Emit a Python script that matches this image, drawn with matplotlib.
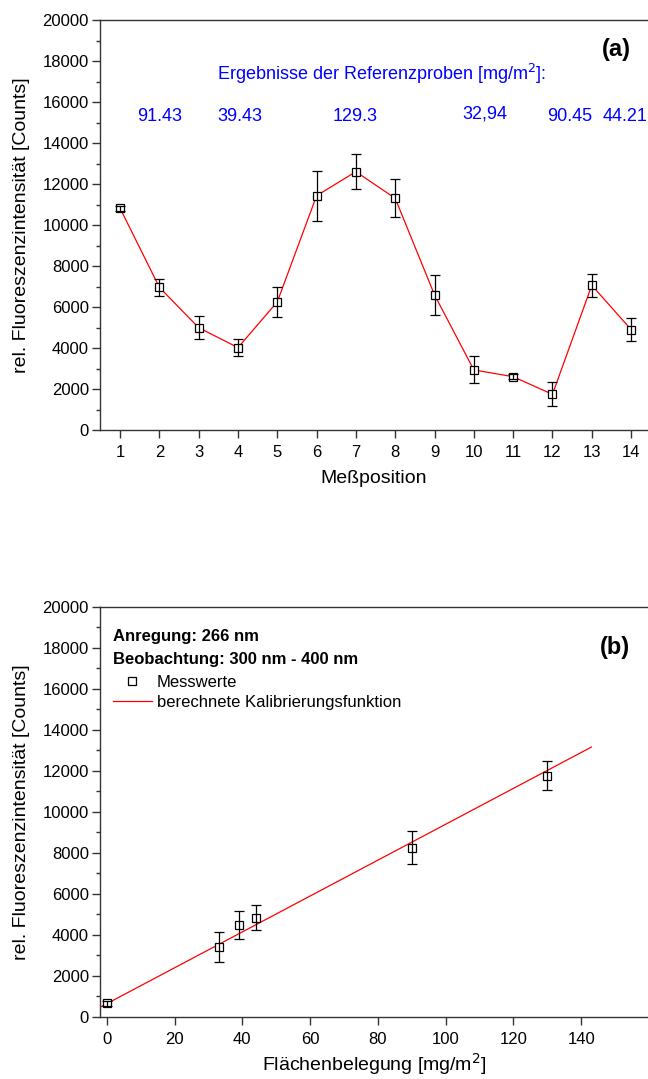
import matplotlib
matplotlib.use("Agg")
import matplotlib.pyplot as plt
from matplotlib.ticker import MultipleLocator
import numpy as np

plt.rcParams['font.family'] = ['Liberation Sans', 'DejaVu Sans']

# ---- data panel (a) ----
positions = [1, 2, 3, 4, 5, 6, 7, 8, 9, 10, 11, 12, 13, 14]
intensity_a = [10820, 6960, 4990, 4020, 6250, 11430, 12600, 11300, 6590, 2930, 2600, 1740, 7060, 4900]
error_a = [130, 430, 550, 420, 720, 1220, 840, 930, 970, 660, 120, 590, 550, 570]
ref_labels = ["91.43", "39.43", "129.3", "32,94", "90.45", "44.21"]
ref_label_x = [2.0, 4.04, 6.97, 10.27, 12.45, 13.84]
ref_label_y = [15300, 15300, 15300, 15420, 15300, 15300]

# ---- data panel (b) ----
coverage = [0, 33.0, 39.0, 43.9, 90.0, 130.0]
intensity_b = [660, 3420, 4470, 4840, 8250, 11770]
error_b = [120, 730, 690, 600, 820, 710]
fit_x = [-2, 143]
fit_intercept = 635
fit_slope = 87.6

W, H = 648, 1079
fig = plt.figure(figsize=(W / 100, H / 100), dpi=100)

def style_axes(ax):
    for s in ['left', 'bottom', 'top']:
        ax.spines[s].set_linewidth(1.0)
        ax.spines[s].set_color('#333333')
    ax.spines['right'].set_visible(False)
    ax.tick_params(axis='both', which='major', direction='out', length=6,
                   width=1.0, color='#333333', labelsize=12)
    ax.tick_params(axis='y', which='major', pad=2)
    ax.tick_params(axis='x', which='major', pad=5)
    ax.tick_params(axis='y', which='minor', direction='out', length=3,
                   width=1.0, color='#333333')
    ax.tick_params(top=False, right=False)
    ax.set_ylim(0, 20000)
    ax.yaxis.set_major_locator(MultipleLocator(2000))
    ax.yaxis.set_minor_locator(MultipleLocator(1000))
    ax.set_ylabel("rel. Fluoreszenzintensität [Counts]", fontsize=14)
    ax.yaxis.set_label_coords(-0.128, 0.5)

# ---- panel (a) ----
ax1 = fig.add_axes([100 / W, 1 - 430 / H, 548 / W, 410 / H])
style_axes(ax1)
ax1.plot(positions, intensity_a, color='red', lw=0.9, zorder=2)
ax1.plot(positions, intensity_a, ls='none', marker='s', ms=6, mfc='white',
         mec='black', mew=0.9, zorder=3)
ax1.errorbar(positions, intensity_a, yerr=error_a, fmt='none', ecolor='black',
             elinewidth=0.9, capsize=3.5, capthick=0.9, zorder=4)
ax1.set_xlim(0.49, 14.43)
ax1.set_xticks(positions)
ax1.set_xlabel("Meßposition", fontsize=14, labelpad=7)
ax1.text(7.65, 17370, "Ergebnisse der Referenzproben [mg/m$^2$]:", color='#0000ff',
         fontsize=13, ha='center', va='center')
for lbl, lx, ly in zip(ref_labels, ref_label_x, ref_label_y):
    ax1.text(lx, ly, lbl, color='#0000ff', fontsize=13, ha='center', va='center')
ax1.text(0.9425, 0.927, "(a)", transform=ax1.transAxes, fontsize=17,
         fontweight='bold', ha='center', va='center')

# ---- panel (b) ----
ax2 = fig.add_axes([100 / W, 1 - 1016.7 / H, 548 / W, 409.7 / H])
style_axes(ax2)
fx = np.array(fit_x, dtype=float)
line, = ax2.plot(fx, fit_intercept + fit_slope * fx, color='red', lw=0.9, zorder=2,
                 label="berechnete Kalibrierungsfunktion")
pts, = ax2.plot(coverage, intensity_b, ls='none', marker='s', ms=6, mfc='white',
                mec='black', mew=0.9, zorder=3, label="Messwerte")
ax2.errorbar(coverage, intensity_b, yerr=error_b, fmt='none', ecolor='black',
             elinewidth=0.9, capsize=3.5, capthick=0.9, zorder=4)
ax2.set_xlim(-2, 159.7)
ax2.set_xticks(np.arange(0, 141, 20))
ax2.set_xlabel("Flächenbelegung [mg/m$^2$]", fontsize=14, labelpad=3)
ax2.text(0.024, 0.929, "Anregung: 266 nm", transform=ax2.transAxes, fontsize=12,
         fontweight='bold', ha='left', va='center')
ax2.text(0.024, 0.872, "Beobachtung: 300 nm - 400 nm", transform=ax2.transAxes,
         fontsize=12, fontweight='bold', ha='left', va='center')
ax2.legend(handles=[pts, line], loc='center left', bbox_to_anchor=(0.0232, 0.7905),
           frameon=False, fontsize=12, borderpad=0, borderaxespad=0,
           handlelength=2.35, handletextpad=0.3, labelspacing=0.3)
ax2.text(0.939, 0.900, "(b)", transform=ax2.transAxes, fontsize=17,
         fontweight='bold', ha='center', va='center')

fig.savefig("out.png", dpi=100)
